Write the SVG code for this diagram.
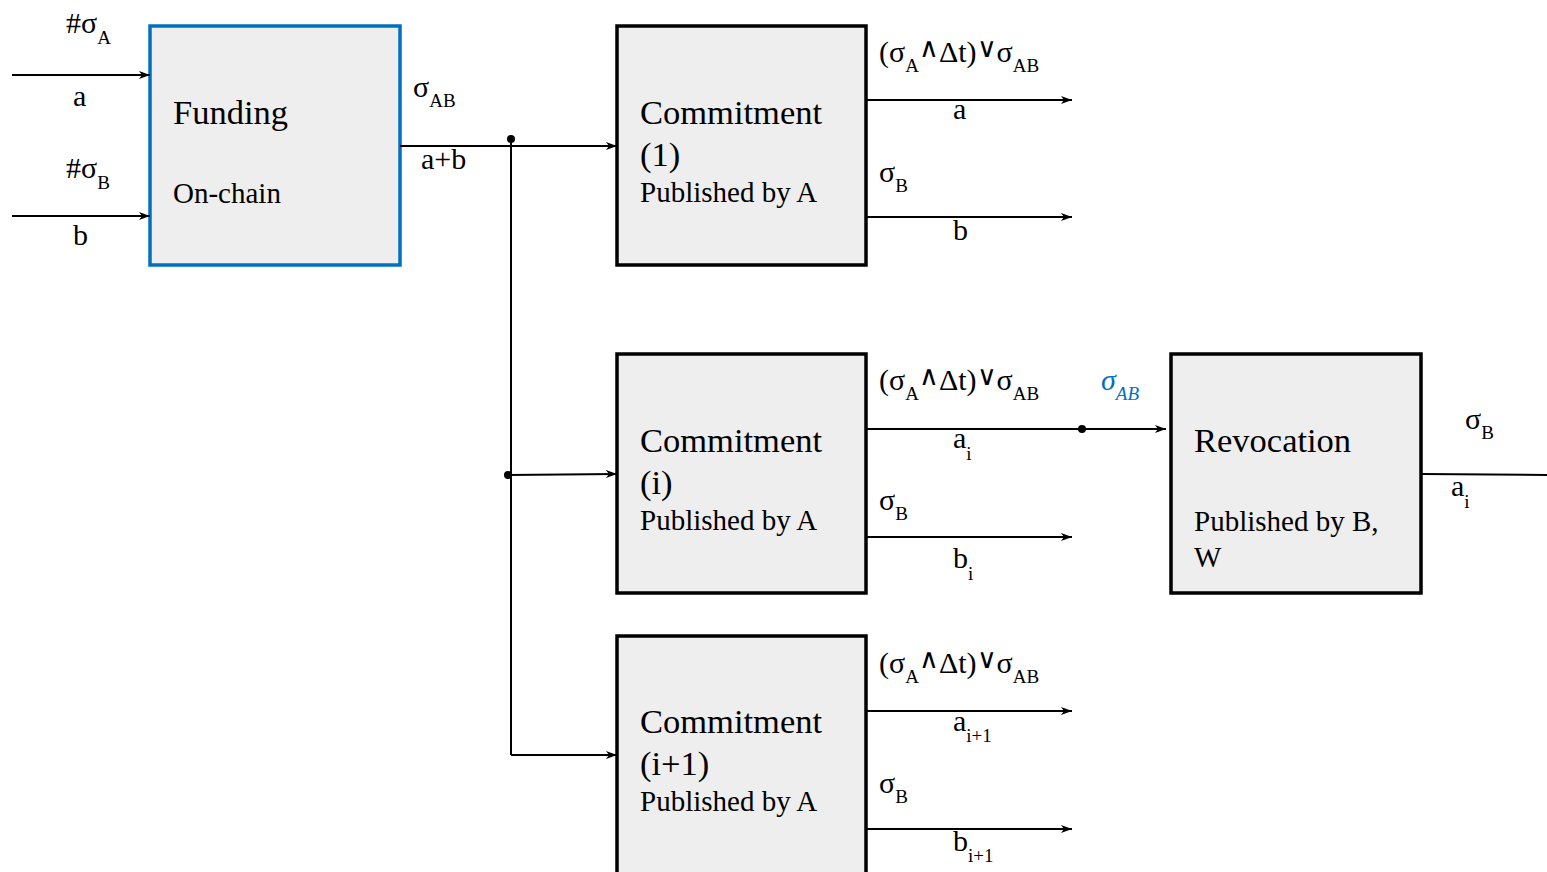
<svg xmlns="http://www.w3.org/2000/svg" width="1547" height="872" viewBox="0 0 1547 872">
  <style>
    text { font-family: "Liberation Serif", "Times New Roman", serif; fill: #000; }
    .title { font-size: 34.5px; }
    .sub { font-size: 29px; }
    .lbl { font-size: 30px; }
    .s { font-size: 19px; }
    .op { font-size: 27px; font-family: "DejaVu Sans", sans-serif; font-weight: 200; }
    .box { fill: #eeeeee; stroke: #000; stroke-width: 3.5; }
    .fund { fill: #eeeeee; stroke: #0070c0; stroke-width: 3.5; }
    .wire { fill: none; stroke: #000; stroke-width: 2; }
    .arr { fill: none; stroke: #000; stroke-width: 2; marker-end: url(#ah); }
  </style>
  <defs>
    <marker id="ah" viewBox="0 0 12 10" refX="11" refY="5" markerWidth="12" markerHeight="10" markerUnits="userSpaceOnUse" orient="auto">
      <path d="M0,1 L11,5 L0,9 L3,5 Z" fill="#000"/>
    </marker>
  </defs>

  <!-- nodes -->
  <g id="funding">
    <rect class="fund" x="150" y="26" width="250" height="239"/>
    <text class="title" x="173" y="124">Funding</text>
    <text class="sub" x="173" y="203">On-chain</text>
  </g>
  <g id="commitment-1">
    <rect class="box" x="617" y="26" width="249" height="239"/>
    <text class="title" x="640" y="124">Commitment</text>
    <text class="title" x="640" y="166">(1)</text>
    <text class="sub" x="640" y="202">Published by A</text>
  </g>
  <g id="commitment-i">
    <rect class="box" x="617" y="354" width="249" height="239"/>
    <text class="title" x="640" y="452">Commitment</text>
    <text class="title" x="640" y="494">(i)</text>
    <text class="sub" x="640" y="530">Published by A</text>
  </g>
  <g id="commitment-i1">
    <rect class="box" x="617" y="636" width="249" height="260"/>
    <text class="title" x="640" y="733">Commitment</text>
    <text class="title" x="640" y="775">(i+1)</text>
    <text class="sub" x="640" y="811">Published by A</text>
  </g>
  <g id="revocation">
    <rect class="box" x="1171" y="354" width="250" height="239"/>
    <text class="title" x="1194" y="452">Revocation</text>
    <text class="sub" x="1194" y="531">Published by B,</text>
    <text class="sub" x="1194" y="567">W</text>
  </g>

  <!-- connectors -->
  <g id="connectors">
    <line class="arr" x1="12" y1="75" x2="150" y2="75"/>
    <line class="arr" x1="12" y1="216" x2="150" y2="216"/>
    <line class="arr" x1="400" y1="146" x2="617" y2="146"/>
    <polyline class="wire" points="511,139 511,755"/>
    <line class="arr" x1="508" y1="475" x2="617" y2="474"/>
    <line class="arr" x1="511" y1="755" x2="617" y2="755"/>
    <circle cx="511" cy="139" r="4" fill="#000"/>
    <circle cx="508" cy="475" r="4" fill="#000"/>

    <line class="arr" x1="866" y1="100" x2="1072" y2="100"/>
    <line class="arr" x1="866" y1="217" x2="1072" y2="217"/>
    <line class="arr" x1="866" y1="429" x2="1166" y2="429"/>
    <circle cx="1082" cy="429" r="4" fill="#000"/>
    <line class="arr" x1="866" y1="537" x2="1072" y2="537"/>
    <line class="arr" x1="866" y1="711" x2="1072" y2="711"/>
    <line class="arr" x1="866" y1="829" x2="1072" y2="829"/>
    <line class="wire" x1="1421" y1="474" x2="1547" y2="475"/>
  </g>

  <!-- connector labels -->
  <g id="labels">
    <text class="lbl" x="66" y="33">#σ<tspan class="s" dy="11">A</tspan></text>
    <text class="lbl" x="73" y="106">a</text>
    <text class="lbl" x="66" y="178">#σ<tspan class="s" dy="11">B</tspan></text>
    <text class="lbl" x="73" y="245">b</text>
    <text class="lbl" x="413" y="97">σ<tspan class="s" dy="10">AB</tspan></text>
    <text class="lbl" x="421" y="169">a+b</text>

    <text class="lbl" x="879" y="62">(σ<tspan class="s" dy="10">A</tspan><tspan class="op" dy="-15">∧</tspan><tspan dy="5">Δt)</tspan><tspan class="op" dy="-5">∨</tspan><tspan dy="5">σ</tspan><tspan class="s" dy="10">AB</tspan></text>
    <text class="lbl" x="953" y="119">a</text>
    <text class="lbl" x="879" y="182">σ<tspan class="s" dy="10">B</tspan></text>
    <text class="lbl" x="953" y="240">b</text>

    <text class="lbl" x="879" y="390">(σ<tspan class="s" dy="10">A</tspan><tspan class="op" dy="-15">∧</tspan><tspan dy="5">Δt)</tspan><tspan class="op" dy="-5">∨</tspan><tspan dy="5">σ</tspan><tspan class="s" dy="10">AB</tspan></text>
    <text class="lbl" x="953" y="448">a<tspan class="s" dy="12">i</tspan></text>
    <text class="lbl" x="879" y="510">σ<tspan class="s" dy="10">B</tspan></text>
    <text class="lbl" x="953" y="568">b<tspan class="s" dy="12">i</tspan></text>
    <text x="1101" y="390" style="font-size:30px;font-style:italic;fill:#0070c0">σ<tspan class="s" dy="10" style="fill:#0070c0">AB</tspan></text>

    <text class="lbl" x="879" y="673">(σ<tspan class="s" dy="10">A</tspan><tspan class="op" dy="-15">∧</tspan><tspan dy="5">Δt)</tspan><tspan class="op" dy="-5">∨</tspan><tspan dy="5">σ</tspan><tspan class="s" dy="10">AB</tspan></text>
    <text class="lbl" x="953" y="731">a<tspan class="s" dy="11">i+1</tspan></text>
    <text class="lbl" x="879" y="793">σ<tspan class="s" dy="10">B</tspan></text>
    <text class="lbl" x="953" y="851">b<tspan class="s" dy="11">i+1</tspan></text>

    <text class="lbl" x="1465" y="429">σ<tspan class="s" dy="10">B</tspan></text>
    <text class="lbl" x="1451" y="496">a<tspan class="s" dy="12">i</tspan></text>
  </g>
</svg>
